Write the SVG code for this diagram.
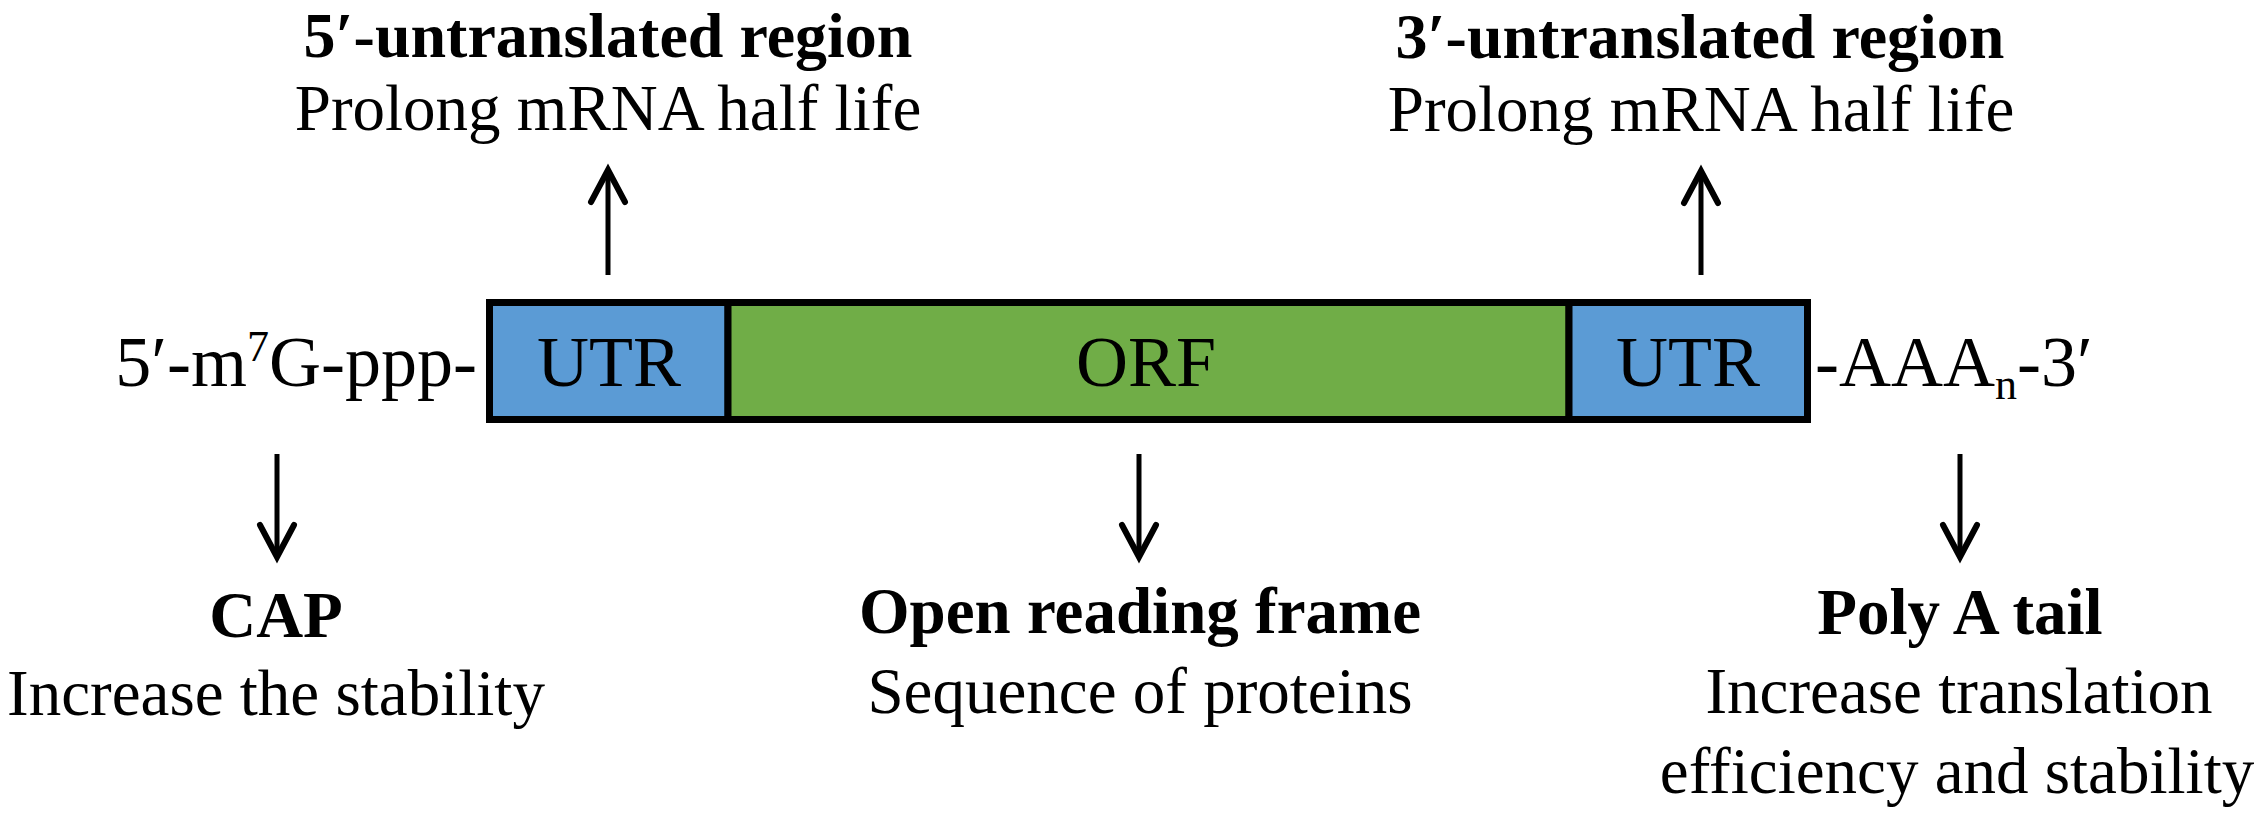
<svg xmlns="http://www.w3.org/2000/svg" width="2265" height="813" viewBox="0 0 2265 813">
<style>
text{font-family:"Liberation Serif","Times New Roman",serif;fill:#000}
.big{font-size:72px}
.lab{font-size:65px;text-anchor:middle}
.b{font-weight:bold}
.top{font-size:64px}
.seg{stroke:#000;stroke-width:7}
.arr{stroke:#000;stroke-width:5;fill:none}
</style>
<defs>
<marker id="ah" markerUnits="userSpaceOnUse" viewBox="-40 -24 48 48" markerWidth="48" markerHeight="48" refX="0" refY="0" orient="auto">
<path d="M-32,-17 L0,0 L-32,17" fill="none" stroke="#000" stroke-width="6" stroke-linejoin="miter" stroke-linecap="round"/>
</marker>
</defs>
<rect width="2265" height="813" fill="#fff"/>
<g id="mrna-bar">
<rect class="seg" x="489.5" y="302.5" width="238.5" height="117" fill="#5B9BD5"/>
<rect class="seg" x="728" y="302.5" width="841" height="117" fill="#70AD47"/>
<rect class="seg" x="1569" y="302.5" width="238.5" height="117" fill="#5B9BD5"/>
<text class="big" x="609" y="386" text-anchor="middle">UTR</text>
<text class="big" x="1146" y="386" text-anchor="middle">ORF</text>
<text class="big" x="1688" y="386" text-anchor="middle">UTR</text>
</g>
<g id="cap-end">
<text class="big" x="477" y="386" text-anchor="end">5′-m<tspan font-size="44" dy="-25">7</tspan><tspan dy="25">G-ppp-</tspan></text>
</g>
<g id="tail-end">
<text class="big" x="1815" y="386">-AAA<tspan font-size="44" dy="13">n</tspan><tspan dy="-13">-3′</tspan></text>
</g>
<g id="utr5-label">
<text class="lab b top" x="608" y="57">5′-untranslated region</text>
<text class="lab" x="608" y="130">Prolong mRNA half life</text>
</g>
<g id="utr3-label">
<text class="lab b top" x="1700" y="58">3′-untranslated region</text>
<text class="lab" x="1701" y="131">Prolong mRNA half life</text>
</g>
<g id="cap-label">
<text class="lab b" x="276" y="637">CAP</text>
<text class="lab" x="276" y="715">Increase the stability</text>
</g>
<g id="orf-label">
<text class="lab b" x="1140" y="633">Open reading frame</text>
<text class="lab" x="1140" y="713">Sequence of proteins</text>
</g>
<g id="polya-label">
<text class="lab b" x="1960" y="634">Poly A tail</text>
<text class="lab" x="1959" y="713">Increase translation</text>
<text class="lab" x="1957" y="793">efficiency and stability</text>
</g>
<g id="connectors">
<line class="arr" x1="608" y1="275" x2="608" y2="170" marker-end="url(#ah)"/>
<line class="arr" x1="1701" y1="275" x2="1701" y2="171" marker-end="url(#ah)"/>
<line class="arr" x1="277" y1="454" x2="277" y2="557" marker-end="url(#ah)"/>
<line class="arr" x1="1139" y1="454" x2="1139" y2="557" marker-end="url(#ah)"/>
<line class="arr" x1="1960" y1="454" x2="1960" y2="557" marker-end="url(#ah)"/>
</g>
</svg>
